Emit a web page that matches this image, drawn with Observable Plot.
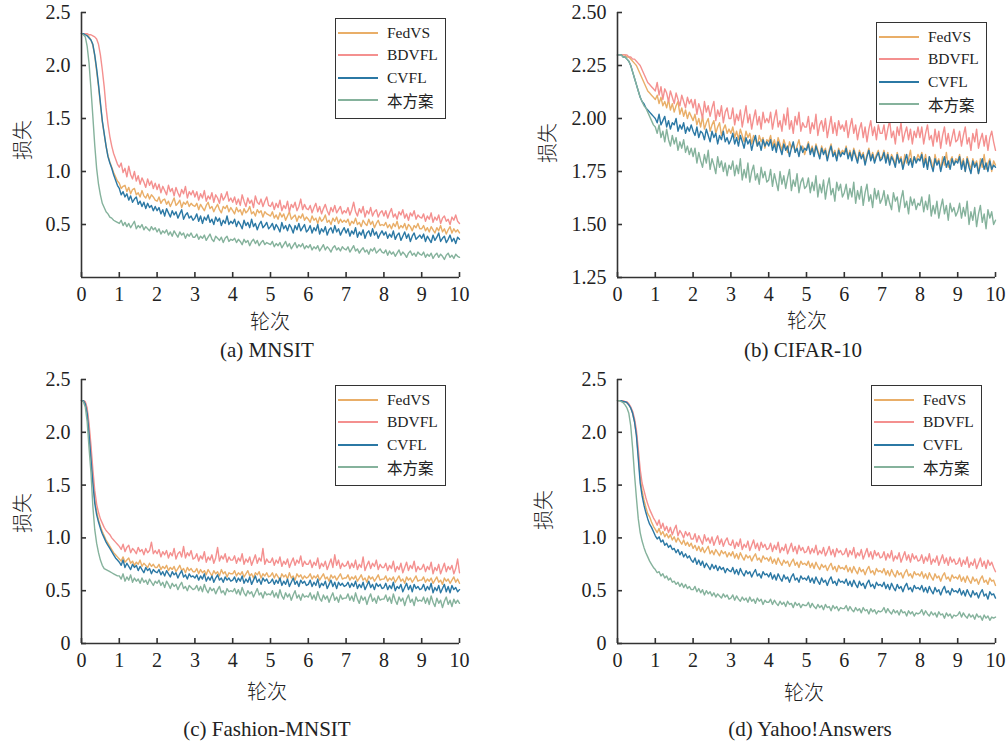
<!DOCTYPE html>
<html>
<head>
<meta charset="utf-8">
<script src="https://cdn.jsdelivr.net/npm/d3@7"></script>
<script src="https://cdn.jsdelivr.net/npm/@observablehq/plot@0.6"></script>
<style>
  body { margin: 0; background: #fff; }
  #root { position: relative; width: 1008px; height: 742px; overflow: hidden; font-family: "Liberation Serif", "Noto Sans CJK SC", serif; color: #222; }
  .panel { position: absolute; }
  .ylab { position: absolute; font-family: "Noto Sans CJK SC"; font-weight: 300; font-size: 20px; line-height: 20px; transform: translate(-50%, -50%) rotate(-90deg); white-space: nowrap; }
  .xlab { position: absolute; font-family: "Noto Sans CJK SC"; font-weight: 300; font-size: 20px; line-height: 20px; transform: translate(-50%, -50%); white-space: nowrap; }
  .cap { position: absolute; font-size: 21px; line-height: 21px; transform: translate(-50%, -50%); white-space: nowrap; }
  .legend { position: absolute; width: 111px; height: 101px; border: 1.6px solid #333; box-sizing: border-box; background: #fff; }
  .row { position: absolute; left: 0; height: 20px; display: flex; align-items: center; font-size: 15.5px; }
  .row .sw { width: 40px; height: 2px; margin-left: 2px; margin-right: 9px; }
  .row .tx { font-family: "Liberation Serif", "Noto Sans CJK SC"; white-space: nowrap; }
</style>
</head>
<body>
<div id="root"></div>
<script>
// ---------- data ----------
const methods = ["FedVS", "BDVFL", "CVFL", "本方案"];
const colors = ["#E9AE68", "#F4908F", "#2B78A4", "#85B29C"];
const xTicks = [0, 1, 2, 3, 4, 5, 6, 7, 8, 9, 10];
const yTicksA = [0.5, 1.0, 1.5, 2.0, 2.5];
const yTicksB = [1.25, 1.5, 1.75, 2.0, 2.25, 2.5];
const yTicksCD = [0, 0.5, 1.0, 1.5, 2.0, 2.5];
const panelTitles = ["(a) MNSIT", "(b) CIFAR-10", "(c) Fashion-MNSIT", "(d) Yahoo!Answers"];
const xTitle = "轮次";
const yTitle = "损失";

// epochs 0..10 in steps of 0.05 (201 samples per series)
const epochs = d3.range(201).map(i => i / 20);

// (a) MNSIT
const mnistFedVS = [2.30,2.30,2.30,2.29,2.27,2.24,2.19,2.09,1.95,1.80,1.63,1.47,1.35,1.24,1.15,1.09,1.04,0.99,0.95,0.91,
 0.89,0.84,0.86,0.87,0.81,0.85,0.79,0.83,0.84,0.78,0.80,0.76,0.82,0.77,0.75,0.79,0.74,0.78,0.76,0.73,
 0.72,0.76,0.70,0.73,0.74,0.69,0.72,0.67,0.71,0.75,0.68,0.70,0.73,0.66,0.71,0.69,0.72,0.67,0.70,0.68,
 0.67,0.70,0.64,0.69,0.66,0.63,0.68,0.71,0.65,0.67,0.62,0.66,0.69,0.64,0.61,0.67,0.65,0.68,0.62,0.66,
 0.63,0.60,0.66,0.62,0.64,0.59,0.65,0.61,0.63,0.67,0.60,0.62,0.58,0.64,0.61,0.63,0.57,0.62,0.60,0.59,
 0.58,0.62,0.56,0.59,0.55,0.61,0.57,0.60,0.54,0.58,0.62,0.55,0.57,0.59,0.53,0.58,0.56,0.60,0.54,0.57,
 0.55,0.52,0.58,0.54,0.56,0.51,0.57,0.53,0.55,0.59,0.52,0.54,0.50,0.56,0.53,0.57,0.51,0.55,0.52,0.54,
 0.52,0.55,0.49,0.53,0.51,0.56,0.50,0.52,0.48,0.54,0.51,0.49,0.55,0.50,0.53,0.47,0.51,0.54,0.49,0.50,
 0.49,0.52,0.47,0.50,0.46,0.51,0.48,0.53,0.46,0.49,0.47,0.51,0.45,0.50,0.48,0.44,0.49,0.47,0.51,0.46,
 0.46,0.49,0.44,0.47,0.43,0.48,0.45,0.42,0.47,0.44,0.49,0.43,0.46,0.41,0.45,0.48,0.42,0.46,0.43,0.45,
 0.42];
const mnistBDVFL = [2.30,2.30,2.30,2.30,2.29,2.29,2.28,2.27,2.25,2.20,2.10,1.96,1.80,1.60,1.45,1.33,1.24,1.17,1.12,1.07,
 1.04,1.08,0.99,1.03,0.95,1.05,0.97,0.93,1.00,0.91,0.96,0.88,0.94,0.90,0.85,0.93,0.87,0.91,0.84,0.89,
 0.83,0.88,0.80,0.86,0.82,0.78,0.87,0.81,0.84,0.77,0.85,0.80,0.76,0.83,0.79,0.86,0.75,0.81,0.78,0.82,
 0.76,0.81,0.73,0.79,0.75,0.82,0.72,0.77,0.74,0.80,0.71,0.78,0.75,0.70,0.79,0.73,0.76,0.81,0.72,0.75,
 0.71,0.76,0.69,0.74,0.68,0.78,0.72,0.67,0.75,0.70,0.73,0.66,0.77,0.71,0.69,0.74,0.67,0.72,0.76,0.68,
 0.67,0.71,0.64,0.70,0.66,0.73,0.63,0.68,0.65,0.72,0.62,0.69,0.66,0.71,0.63,0.67,0.74,0.64,0.69,0.65,
 0.64,0.68,0.61,0.66,0.70,0.62,0.67,0.60,0.65,0.69,0.63,0.59,0.66,0.62,0.68,0.61,0.64,0.67,0.60,0.63,
 0.61,0.66,0.59,0.64,0.71,0.62,0.58,0.65,0.61,0.67,0.57,0.63,0.60,0.66,0.58,0.62,0.64,0.57,0.61,0.63,
 0.58,0.63,0.56,0.61,0.65,0.57,0.60,0.55,0.62,0.59,0.64,0.56,0.60,0.54,0.61,0.58,0.63,0.55,0.59,0.57,
 0.56,0.60,0.53,0.58,0.55,0.61,0.52,0.57,0.54,0.59,0.51,0.56,0.58,0.53,0.55,0.50,0.57,0.54,0.59,0.53,
 0.51];
const mnistCVFL = [2.30,2.30,2.29,2.28,2.26,2.24,2.20,2.10,1.97,1.82,1.65,1.48,1.36,1.24,1.14,1.08,1.03,0.97,0.92,0.87,
 0.84,0.78,0.81,0.76,0.79,0.73,0.77,0.71,0.74,0.76,0.69,0.72,0.67,0.71,0.65,0.70,0.66,0.68,0.63,0.67,
 0.63,0.66,0.60,0.64,0.58,0.65,0.61,0.57,0.63,0.59,0.62,0.56,0.60,0.64,0.55,0.59,0.61,0.56,0.58,0.54,
 0.56,0.60,0.53,0.58,0.51,0.57,0.54,0.59,0.52,0.55,0.50,0.57,0.53,0.56,0.49,0.54,0.51,0.58,0.50,0.53,
 0.51,0.55,0.48,0.53,0.50,0.46,0.54,0.49,0.52,0.47,0.55,0.48,0.51,0.45,0.50,0.53,0.47,0.49,0.52,0.46,
 0.48,0.51,0.45,0.50,0.47,0.43,0.52,0.46,0.49,0.44,0.50,0.47,0.42,0.49,0.45,0.51,0.44,0.47,0.50,0.43,
 0.45,0.49,0.42,0.47,0.44,0.50,0.41,0.46,0.43,0.48,0.40,0.45,0.47,0.42,0.49,0.43,0.46,0.40,0.44,0.47,
 0.42,0.46,0.39,0.44,0.41,0.47,0.38,0.43,0.40,0.45,0.37,0.42,0.44,0.39,0.46,0.40,0.43,0.37,0.41,0.44,
 0.40,0.43,0.37,0.41,0.38,0.44,0.36,0.40,0.42,0.35,0.39,0.43,0.37,0.41,0.34,0.39,0.42,0.36,0.38,0.40,
 0.37,0.41,0.34,0.39,0.36,0.33,0.40,0.35,0.38,0.42,0.34,0.37,0.39,0.33,0.36,0.40,0.34,0.37,0.32,0.38,
 0.36];
const mnistOurs = [2.30,2.29,2.27,2.18,2.02,1.78,1.52,1.25,1.03,0.88,0.78,0.70,0.66,0.62,0.60,0.57,0.56,0.54,0.53,0.52,
 0.51,0.54,0.49,0.52,0.48,0.51,0.47,0.50,0.53,0.46,0.49,0.47,0.50,0.45,0.48,0.46,0.44,0.48,0.45,0.47,
 0.43,0.46,0.41,0.44,0.42,0.45,0.40,0.43,0.39,0.44,0.41,0.38,0.43,0.40,0.42,0.37,0.41,0.39,0.42,0.38,
 0.38,0.41,0.36,0.39,0.37,0.40,0.35,0.38,0.41,0.36,0.34,0.39,0.37,0.35,0.38,0.33,0.37,0.39,0.34,0.36,
 0.35,0.37,0.33,0.36,0.34,0.31,0.36,0.33,0.35,0.30,0.34,0.36,0.32,0.35,0.30,0.33,0.35,0.31,0.33,0.32,
 0.31,0.34,0.29,0.32,0.30,0.33,0.28,0.31,0.34,0.29,0.32,0.27,0.30,0.33,0.28,0.31,0.29,0.32,0.27,0.30,
 0.28,0.31,0.26,0.29,0.27,0.30,0.25,0.28,0.31,0.26,0.29,0.27,0.24,0.28,0.30,0.26,0.28,0.25,0.29,0.27,
 0.26,0.29,0.24,0.27,0.30,0.25,0.27,0.23,0.26,0.28,0.24,0.26,0.22,0.27,0.25,0.28,0.23,0.25,0.27,0.24,
 0.23,0.26,0.21,0.25,0.22,0.24,0.20,0.23,0.26,0.21,0.24,0.22,0.19,0.23,0.25,0.21,0.23,0.20,0.24,0.22,
 0.21,0.24,0.19,0.22,0.20,0.23,0.18,0.21,0.23,0.19,0.22,0.20,0.17,0.21,0.23,0.19,0.21,0.18,0.22,0.20,
 0.19];

// (b) CIFAR-10
const cifarFedVS = [2.30,2.30,2.30,2.30,2.30,2.29,2.29,2.28,2.27,2.26,2.25,2.23,2.21,2.19,2.17,2.15,2.13,2.12,2.11,2.10,
 2.09,2.11,2.07,2.10,2.06,2.08,2.05,2.09,2.04,2.07,2.03,2.06,2.08,2.02,2.05,2.01,2.04,2.00,2.03,2.01,
 1.99,2.02,1.97,2.00,1.96,2.01,1.95,1.98,2.00,1.94,1.97,1.99,1.93,1.96,1.98,1.92,1.95,1.97,1.93,1.95,
 1.93,1.96,1.91,1.94,1.90,1.95,1.92,1.89,1.94,1.91,1.93,1.88,1.92,1.90,1.87,1.92,1.89,1.91,1.86,1.90,
 1.89,1.92,1.87,1.90,1.86,1.91,1.88,1.85,1.90,1.87,1.84,1.89,1.86,1.88,1.84,1.87,1.90,1.85,1.87,1.83,
 1.86,1.89,1.84,1.87,1.83,1.88,1.85,1.82,1.87,1.84,1.86,1.81,1.85,1.88,1.83,1.85,1.81,1.86,1.83,1.85,
 1.84,1.87,1.82,1.85,1.81,1.86,1.83,1.80,1.85,1.82,1.84,1.79,1.83,1.86,1.81,1.84,1.80,1.83,1.85,1.81,
 1.82,1.85,1.80,1.84,1.79,1.83,1.81,1.78,1.84,1.80,1.82,1.77,1.83,1.79,1.81,1.85,1.78,1.82,1.80,1.83,
 1.81,1.84,1.79,1.83,1.77,1.82,1.80,1.76,1.83,1.79,1.81,1.76,1.82,1.78,1.84,1.77,1.80,1.82,1.78,1.81,
 1.80,1.83,1.78,1.81,1.75,1.82,1.79,1.76,1.81,1.78,1.80,1.74,1.81,1.77,1.83,1.76,1.79,1.81,1.75,1.80,
 1.78];
const cifarBDVFL = [2.30,2.30,2.30,2.30,2.30,2.30,2.29,2.29,2.28,2.28,2.27,2.26,2.25,2.23,2.21,2.19,2.17,2.16,2.15,2.14,
 2.13,2.17,2.11,2.15,2.09,2.14,2.12,2.08,2.13,2.10,2.07,2.12,2.09,2.06,2.11,2.08,2.05,2.10,2.07,2.09,
 2.05,2.09,2.02,2.07,2.04,2.00,2.08,2.03,2.06,2.01,2.05,2.08,1.99,2.04,2.01,2.06,1.98,2.03,2.05,2.00,
 2.00,2.05,1.97,2.02,1.99,2.04,1.96,2.01,2.06,1.98,2.02,1.95,2.00,2.04,1.97,2.01,1.95,2.03,1.98,2.00,
 1.98,2.03,1.95,2.00,2.04,1.96,1.99,1.94,2.02,1.97,2.05,1.95,1.99,1.93,2.01,1.97,2.03,1.94,1.98,1.96,
 1.96,2.01,1.93,1.98,1.95,2.02,1.92,1.97,1.99,1.94,2.00,1.91,1.96,2.01,1.93,1.98,1.92,1.99,1.95,1.97,
 1.94,1.99,1.91,1.96,2.00,1.93,1.97,1.90,1.95,1.98,1.91,1.96,1.89,1.95,1.99,1.92,1.96,1.90,1.97,1.93,
 1.93,1.97,1.90,1.95,1.99,1.91,1.94,1.88,1.96,1.92,1.98,1.89,1.93,1.96,1.90,1.95,1.88,1.94,1.91,1.96,
 1.91,1.96,1.88,1.93,1.97,1.90,1.92,1.87,1.95,1.89,1.94,1.86,1.92,1.96,1.88,1.93,1.87,1.91,1.95,1.89,
 1.90,1.94,1.87,1.92,1.96,1.88,1.91,1.85,1.93,1.89,1.95,1.86,1.90,1.93,1.87,1.92,1.85,1.91,1.94,1.89,
 1.85];
const cifarCVFL = [2.30,2.30,2.30,2.29,2.29,2.28,2.27,2.25,2.22,2.19,2.16,2.13,2.10,2.08,2.07,2.05,2.04,2.03,2.02,2.01,
 2.00,1.98,2.02,1.97,1.99,2.01,1.96,1.99,1.95,1.98,1.97,2.00,1.94,1.97,1.95,1.98,1.93,1.96,1.94,1.97,
 1.94,1.92,1.96,1.91,1.94,1.93,1.90,1.95,1.92,1.89,1.94,1.91,1.93,1.88,1.92,1.90,1.94,1.89,1.91,1.88,
 1.90,1.93,1.88,1.91,1.87,1.92,1.89,1.86,1.91,1.88,1.90,1.85,1.89,1.92,1.87,1.89,1.85,1.90,1.87,1.89,
 1.87,1.90,1.85,1.88,1.84,1.89,1.86,1.83,1.88,1.85,1.87,1.82,1.86,1.89,1.84,1.86,1.82,1.87,1.84,1.86,
 1.85,1.88,1.83,1.86,1.82,1.87,1.84,1.81,1.86,1.83,1.85,1.80,1.84,1.87,1.82,1.84,1.80,1.85,1.82,1.84,
 1.83,1.86,1.81,1.84,1.80,1.85,1.82,1.79,1.84,1.81,1.83,1.78,1.82,1.85,1.80,1.83,1.79,1.82,1.84,1.80,
 1.81,1.84,1.79,1.83,1.78,1.82,1.80,1.77,1.83,1.79,1.81,1.76,1.80,1.83,1.78,1.81,1.77,1.82,1.79,1.81,
 1.80,1.83,1.77,1.81,1.76,1.82,1.78,1.75,1.81,1.78,1.80,1.75,1.79,1.82,1.77,1.80,1.76,1.81,1.78,1.80,
 1.79,1.82,1.76,1.80,1.75,1.81,1.77,1.74,1.80,1.77,1.79,1.74,1.78,1.81,1.76,1.79,1.75,1.80,1.76,1.78,
 1.77];
const cifarOurs = [2.30,2.30,2.30,2.29,2.29,2.28,2.27,2.25,2.22,2.19,2.16,2.13,2.10,2.08,2.06,2.05,2.03,2.01,1.99,1.97,
 1.96,1.93,1.97,1.91,1.94,1.89,1.95,1.90,1.87,1.92,1.88,1.91,1.85,1.89,1.86,1.90,1.84,1.87,1.83,1.86,
 1.82,1.86,1.79,1.84,1.80,1.77,1.83,1.79,1.85,1.76,1.81,1.78,1.74,1.82,1.77,1.80,1.75,1.79,1.73,1.78,
 1.76,1.80,1.73,1.78,1.74,1.81,1.71,1.76,1.72,1.79,1.70,1.75,1.78,1.71,1.74,1.69,1.77,1.72,1.75,1.70,
 1.71,1.76,1.68,1.74,1.70,1.66,1.75,1.69,1.73,1.67,1.72,1.76,1.66,1.71,1.68,1.74,1.65,1.70,1.72,1.67,
 1.68,1.72,1.65,1.70,1.66,1.73,1.63,1.69,1.65,1.71,1.62,1.68,1.72,1.64,1.67,1.61,1.70,1.66,1.69,1.63,
 1.65,1.69,1.62,1.67,1.63,1.70,1.60,1.66,1.62,1.68,1.59,1.65,1.69,1.61,1.64,1.58,1.67,1.62,1.66,1.60,
 1.62,1.66,1.59,1.64,1.60,1.57,1.65,1.61,1.63,1.56,1.62,1.66,1.58,1.61,1.55,1.63,1.59,1.62,1.57,1.60,
 1.59,1.63,1.56,1.61,1.57,1.64,1.54,1.59,1.55,1.61,1.53,1.58,1.62,1.55,1.59,1.52,1.60,1.56,1.58,1.54,
 1.56,1.60,1.53,1.58,1.54,1.61,1.50,1.56,1.52,1.58,1.49,1.55,1.59,1.51,1.55,1.48,1.57,1.53,1.56,1.50,
 1.52];

// (c) Fashion-MNSIT
const fashionFedVS = [2.30,2.30,2.28,2.20,2.02,1.80,1.56,1.37,1.25,1.17,1.11,1.06,1.02,0.98,0.95,0.92,0.89,0.86,0.84,0.82,
 0.80,0.78,0.82,0.77,0.79,0.81,0.76,0.78,0.74,0.77,0.75,0.79,0.73,0.76,0.74,0.72,0.76,0.73,0.75,0.72,
 0.72,0.75,0.70,0.73,0.71,0.74,0.69,0.72,0.70,0.73,0.68,0.71,0.74,0.69,0.71,0.67,0.72,0.69,0.71,0.68,
 0.68,0.71,0.66,0.70,0.67,0.69,0.65,0.70,0.67,0.64,0.69,0.66,0.68,0.64,0.70,0.66,0.68,0.63,0.67,0.66,
 0.66,0.69,0.64,0.67,0.65,0.68,0.63,0.66,0.69,0.64,0.66,0.62,0.67,0.65,0.68,0.62,0.66,0.64,0.67,0.63,
 0.64,0.67,0.62,0.66,0.63,0.60,0.66,0.63,0.65,0.61,0.67,0.62,0.64,0.60,0.66,0.63,0.65,0.61,0.64,0.62,
 0.63,0.66,0.61,0.64,0.62,0.65,0.60,0.63,0.66,0.61,0.63,0.59,0.65,0.62,0.64,0.60,0.63,0.66,0.61,0.62,
 0.62,0.65,0.60,0.63,0.61,0.64,0.59,0.62,0.65,0.60,0.62,0.58,0.64,0.61,0.63,0.59,0.62,0.65,0.60,0.61,
 0.61,0.64,0.59,0.62,0.60,0.63,0.58,0.61,0.64,0.59,0.61,0.57,0.63,0.60,0.62,0.58,0.61,0.64,0.59,0.60,
 0.60,0.63,0.58,0.61,0.59,0.62,0.57,0.60,0.63,0.58,0.60,0.56,0.62,0.59,0.61,0.57,0.60,0.63,0.58,0.61,
 0.57];
const fashionBDVFL = [2.30,2.30,2.29,2.23,2.08,1.88,1.65,1.45,1.32,1.24,1.18,1.14,1.10,1.07,1.05,1.03,1.00,0.98,0.96,0.94,
 0.92,0.89,0.94,0.87,0.91,0.93,0.86,0.90,0.88,0.85,0.91,0.87,0.89,0.84,0.90,0.86,0.88,0.96,0.85,0.88,
 0.85,0.89,0.82,0.87,0.84,0.88,0.81,0.86,0.83,0.90,0.80,0.85,0.87,0.82,0.92,0.81,0.86,0.83,0.88,0.80,
 0.81,0.85,0.78,0.83,0.80,0.87,0.77,0.82,0.79,0.84,0.76,0.81,0.91,0.78,0.83,0.80,0.85,0.77,0.82,0.79,
 0.79,0.83,0.76,0.81,0.78,0.85,0.75,0.80,0.77,0.82,0.74,0.79,0.84,0.76,0.81,0.78,0.90,0.75,0.80,0.77,
 0.77,0.81,0.74,0.79,0.76,0.82,0.73,0.78,0.75,0.80,0.72,0.77,0.81,0.74,0.79,0.76,0.83,0.73,0.78,0.75,
 0.75,0.79,0.72,0.77,0.74,0.81,0.71,0.76,0.73,0.78,0.70,0.75,0.80,0.72,0.84,0.74,0.79,0.71,0.76,0.73,
 0.74,0.78,0.71,0.76,0.72,0.79,0.70,0.75,0.72,0.82,0.69,0.74,0.78,0.71,0.76,0.73,0.79,0.70,0.75,0.72,
 0.72,0.76,0.69,0.74,0.71,0.78,0.68,0.73,0.70,0.76,0.67,0.72,0.77,0.69,0.74,0.71,0.78,0.68,0.73,0.70,
 0.71,0.75,0.68,0.73,0.70,0.77,0.66,0.72,0.69,0.75,0.66,0.71,0.76,0.68,0.73,0.70,0.74,0.66,0.71,0.80,
 0.67];
const fashionCVFL = [2.30,2.30,2.27,2.18,1.98,1.75,1.52,1.33,1.22,1.15,1.09,1.04,1.00,0.96,0.93,0.90,0.87,0.84,0.81,0.79,
 0.77,0.74,0.79,0.72,0.76,0.73,0.70,0.75,0.72,0.74,0.69,0.73,0.70,0.67,0.72,0.69,0.71,0.66,0.70,0.68,
 0.67,0.70,0.65,0.68,0.64,0.69,0.66,0.63,0.68,0.65,0.67,0.62,0.66,0.69,0.63,0.65,0.61,0.66,0.63,0.64,
 0.62,0.65,0.60,0.64,0.61,0.66,0.59,0.63,0.60,0.64,0.58,0.62,0.65,0.60,0.62,0.58,0.63,0.60,0.62,0.59,
 0.60,0.63,0.58,0.62,0.59,0.64,0.57,0.61,0.58,0.63,0.56,0.60,0.64,0.58,0.61,0.56,0.62,0.59,0.61,0.57,
 0.58,0.61,0.56,0.60,0.57,0.62,0.55,0.59,0.56,0.61,0.54,0.58,0.62,0.56,0.59,0.54,0.60,0.57,0.59,0.55,
 0.56,0.60,0.54,0.58,0.55,0.61,0.53,0.57,0.55,0.59,0.52,0.56,0.60,0.54,0.58,0.52,0.58,0.55,0.57,0.54,
 0.55,0.58,0.53,0.57,0.54,0.59,0.52,0.56,0.53,0.58,0.51,0.55,0.59,0.53,0.56,0.51,0.57,0.54,0.56,0.52,
 0.53,0.57,0.51,0.55,0.52,0.58,0.50,0.54,0.52,0.56,0.49,0.53,0.57,0.51,0.55,0.49,0.56,0.52,0.54,0.51,
 0.52,0.56,0.50,0.54,0.51,0.57,0.48,0.53,0.50,0.55,0.48,0.52,0.56,0.49,0.54,0.48,0.55,0.51,0.53,0.49,
 0.51];
const fashionOurs = [2.30,2.29,2.24,2.10,1.85,1.62,1.30,1.08,0.95,0.86,0.79,0.74,0.71,0.70,0.69,0.68,0.67,0.66,0.65,0.64,
 0.64,0.61,0.66,0.59,0.63,0.60,0.65,0.58,0.62,0.59,0.61,0.57,0.62,0.58,0.60,0.56,0.61,0.58,0.55,0.59,
 0.57,0.60,0.55,0.58,0.53,0.59,0.56,0.52,0.57,0.54,0.56,0.51,0.55,0.58,0.52,0.54,0.50,0.55,0.53,0.51,
 0.52,0.55,0.50,0.54,0.49,0.56,0.51,0.48,0.53,0.50,0.52,0.47,0.51,0.54,0.48,0.50,0.46,0.52,0.49,0.50,
 0.49,0.52,0.47,0.51,0.46,0.53,0.48,0.45,0.50,0.47,0.49,0.44,0.48,0.52,0.46,0.48,0.43,0.49,0.46,0.47,
 0.46,0.50,0.44,0.48,0.43,0.51,0.45,0.42,0.48,0.44,0.47,0.41,0.46,0.50,0.43,0.46,0.41,0.47,0.44,0.45,
 0.44,0.48,0.42,0.46,0.41,0.49,0.43,0.40,0.46,0.42,0.45,0.39,0.44,0.48,0.41,0.44,0.39,0.46,0.42,0.43,
 0.43,0.47,0.41,0.45,0.40,0.48,0.42,0.38,0.45,0.41,0.44,0.37,0.43,0.47,0.40,0.43,0.38,0.45,0.41,0.42,
 0.42,0.46,0.40,0.44,0.38,0.47,0.41,0.37,0.44,0.40,0.43,0.36,0.42,0.46,0.39,0.42,0.36,0.44,0.40,0.41,
 0.40,0.44,0.38,0.43,0.37,0.45,0.39,0.35,0.43,0.38,0.41,0.34,0.40,0.44,0.37,0.41,0.35,0.42,0.38,0.41,
 0.38];

// (d) Yahoo!Answers
const yahooFedVS = [2.30,2.30,2.30,2.29,2.29,2.28,2.26,2.23,2.18,2.10,1.98,1.78,1.57,1.45,1.36,1.29,1.23,1.20,1.15,1.11,
 1.08,1.05,1.09,1.03,1.06,1.01,1.04,1.00,1.03,0.98,1.01,0.96,1.00,0.97,0.94,0.98,0.93,0.96,0.92,0.95,
 0.90,0.93,0.88,0.92,0.87,0.91,0.86,0.89,0.92,0.85,0.88,0.84,0.89,0.86,0.83,0.88,0.85,0.87,0.82,0.86,
 0.83,0.87,0.81,0.85,0.80,0.86,0.82,0.79,0.84,0.81,0.83,0.78,0.82,0.85,0.79,0.81,0.77,0.83,0.80,0.81,
 0.78,0.82,0.76,0.80,0.75,0.81,0.77,0.74,0.79,0.76,0.78,0.73,0.77,0.80,0.74,0.77,0.72,0.78,0.75,0.76,
 0.74,0.78,0.72,0.76,0.71,0.77,0.73,0.70,0.75,0.72,0.74,0.69,0.73,0.76,0.70,0.73,0.68,0.74,0.71,0.72,
 0.70,0.74,0.68,0.72,0.67,0.73,0.69,0.66,0.72,0.68,0.70,0.65,0.70,0.73,0.67,0.69,0.65,0.71,0.68,0.69,
 0.67,0.71,0.65,0.69,0.64,0.70,0.66,0.63,0.69,0.65,0.67,0.62,0.67,0.70,0.64,0.66,0.62,0.68,0.65,0.66,
 0.64,0.68,0.62,0.66,0.61,0.67,0.63,0.60,0.66,0.62,0.64,0.59,0.64,0.67,0.61,0.63,0.59,0.65,0.62,0.63,
 0.61,0.65,0.59,0.63,0.58,0.64,0.60,0.57,0.63,0.59,0.61,0.56,0.61,0.64,0.58,0.60,0.56,0.62,0.59,0.60,
 0.55];
const yahooBDVFL = [2.30,2.30,2.30,2.30,2.29,2.29,2.27,2.24,2.20,2.13,2.02,1.84,1.65,1.52,1.45,1.38,1.32,1.27,1.23,1.19,
 1.16,1.12,1.17,1.09,1.14,1.07,1.11,1.05,1.10,1.03,1.08,1.12,1.02,1.07,1.04,1.00,1.06,1.02,1.05,0.99,
 0.99,1.04,0.96,1.02,0.98,0.94,1.03,0.97,1.00,0.95,1.01,0.93,0.98,1.02,0.94,0.99,0.92,0.97,1.00,0.94,
 0.93,0.98,0.90,0.96,0.92,0.99,0.89,0.94,0.91,0.97,0.88,0.93,0.98,0.90,0.95,0.88,0.96,0.91,0.94,0.89,
 0.90,0.95,0.87,0.93,0.89,0.96,0.86,0.91,0.88,0.94,0.85,0.90,0.95,0.87,0.92,0.85,0.93,0.88,0.91,0.86,
 0.87,0.92,0.85,0.90,0.86,0.93,0.84,0.88,0.85,0.91,0.83,0.87,0.92,0.84,0.89,0.82,0.90,0.86,0.88,0.84,
 0.85,0.90,0.82,0.88,0.84,0.91,0.81,0.86,0.83,0.89,0.80,0.85,0.90,0.82,0.87,0.80,0.88,0.83,0.86,0.81,
 0.82,0.87,0.79,0.85,0.81,0.88,0.78,0.83,0.80,0.86,0.77,0.82,0.87,0.79,0.84,0.77,0.85,0.80,0.83,0.78,
 0.79,0.84,0.76,0.82,0.78,0.85,0.75,0.80,0.77,0.83,0.74,0.79,0.84,0.76,0.81,0.74,0.82,0.77,0.80,0.75,
 0.76,0.81,0.73,0.79,0.75,0.82,0.72,0.77,0.74,0.80,0.71,0.76,0.81,0.73,0.78,0.71,0.79,0.74,0.77,0.72,
 0.68];
const yahooCVFL = [2.30,2.30,2.30,2.29,2.29,2.28,2.26,2.23,2.18,2.10,1.97,1.75,1.52,1.40,1.31,1.24,1.18,1.13,1.10,1.06,
 1.02,0.99,1.01,0.96,0.98,0.93,0.95,0.91,0.93,0.89,0.90,0.86,0.89,0.84,0.87,0.82,0.85,0.81,0.83,0.79,
 0.77,0.81,0.75,0.79,0.74,0.78,0.72,0.76,0.73,0.70,0.75,0.71,0.74,0.69,0.73,0.70,0.72,0.67,0.71,0.69,
 0.68,0.72,0.66,0.70,0.65,0.71,0.67,0.64,0.69,0.66,0.68,0.63,0.67,0.70,0.64,0.66,0.62,0.68,0.65,0.66,
 0.63,0.67,0.61,0.65,0.60,0.66,0.62,0.59,0.65,0.61,0.63,0.58,0.63,0.66,0.60,0.62,0.58,0.64,0.61,0.62,
 0.60,0.64,0.58,0.62,0.57,0.63,0.59,0.56,0.62,0.58,0.60,0.55,0.60,0.63,0.57,0.59,0.55,0.61,0.58,0.59,
 0.57,0.61,0.55,0.59,0.54,0.60,0.56,0.53,0.59,0.55,0.57,0.52,0.57,0.60,0.54,0.56,0.52,0.58,0.55,0.56,
 0.54,0.58,0.52,0.56,0.51,0.57,0.53,0.50,0.56,0.52,0.54,0.49,0.54,0.57,0.51,0.53,0.49,0.55,0.52,0.53,
 0.51,0.55,0.49,0.53,0.48,0.54,0.50,0.47,0.53,0.49,0.51,0.46,0.51,0.54,0.48,0.50,0.46,0.52,0.49,0.50,
 0.48,0.52,0.46,0.50,0.45,0.51,0.47,0.44,0.50,0.46,0.48,0.43,0.48,0.51,0.45,0.47,0.42,0.49,0.46,0.47,
 0.43];
const yahooOurs = [2.30,2.30,2.29,2.28,2.26,2.23,2.18,2.06,1.85,1.60,1.38,1.18,1.05,0.97,0.91,0.86,0.82,0.78,0.75,0.72,
 0.70,0.67,0.68,0.64,0.66,0.62,0.64,0.60,0.62,0.58,0.59,0.56,0.58,0.54,0.57,0.53,0.56,0.52,0.54,0.51,
 0.51,0.54,0.49,0.52,0.48,0.51,0.46,0.50,0.47,0.49,0.45,0.48,0.44,0.47,0.45,0.43,0.47,0.44,0.46,0.42,
 0.43,0.46,0.41,0.45,0.42,0.40,0.44,0.41,0.43,0.39,0.44,0.40,0.42,0.38,0.43,0.40,0.42,0.37,0.41,0.39,
 0.39,0.42,0.37,0.41,0.38,0.36,0.40,0.37,0.39,0.35,0.40,0.37,0.38,0.34,0.39,0.36,0.38,0.34,0.37,0.36,
 0.36,0.39,0.34,0.38,0.35,0.33,0.37,0.34,0.36,0.32,0.37,0.34,0.35,0.31,0.36,0.33,0.35,0.31,0.34,0.33,
 0.33,0.36,0.31,0.35,0.32,0.30,0.34,0.31,0.33,0.29,0.34,0.31,0.32,0.28,0.33,0.30,0.32,0.28,0.31,0.30,
 0.31,0.34,0.29,0.33,0.30,0.28,0.32,0.29,0.31,0.27,0.32,0.29,0.30,0.26,0.31,0.28,0.30,0.26,0.29,0.28,
 0.29,0.32,0.27,0.31,0.28,0.26,0.30,0.27,0.29,0.25,0.30,0.27,0.28,0.24,0.29,0.26,0.28,0.24,0.27,0.26,
 0.27,0.30,0.25,0.29,0.26,0.24,0.28,0.25,0.27,0.23,0.28,0.25,0.26,0.22,0.27,0.24,0.26,0.22,0.25,0.24,
 0.25];

// ---------- build ----------
const fmt1 = d => d === 0 ? "0" : d.toFixed(1);
const fmt2 = d => d.toFixed(2);

const panels = [
  {series: [mnistFedVS, mnistBDVFL, mnistCVFL, mnistOurs], domain: [0, 2.5], ticks: yTicksA, fmt: fmt1,
   left: 0, top: 0, ml: 81, mr: 45, mb: 33,
   ylab: [22, 140], xlab: [270, 321], cap: [267, 350], legend: [335, 18]},
  {series: [cifarFedVS, cifarBDVFL, cifarCVFL, cifarOurs], domain: [1.25, 2.5], ticks: yTicksB, fmt: fmt2,
   left: 504, top: 0, ml: 113, mr: 13, mb: 33,
   ylab: [547, 143], xlab: [807, 320], cap: [803, 350], legend: [876, 22]},
  {series: [fashionFedVS, fashionBDVFL, fashionCVFL, fashionOurs], domain: [0, 2.5], ticks: yTicksCD, fmt: fmt1,
   left: 0, top: 367, ml: 81, mr: 45, mb: 34,
   ylab: [22, 513], xlab: [267, 691], cap: [267, 729], legend: [335, 385]},
  {series: [yahooFedVS, yahooBDVFL, yahooCVFL, yahooOurs], domain: [0, 2.5], ticks: yTicksCD, fmt: fmt1,
   left: 504, top: 367, ml: 113, mr: 13, mb: 34,
   ylab: [543, 510], xlab: [804, 692], cap: [810, 729], legend: [871, 385]}
];

const root = document.getElementById("root");

function addText(cls, text, x, y) {
  const d = document.createElement("div");
  d.className = cls;
  d.textContent = text;
  d.style.left = x + "px";
  d.style.top = y + "px";
  root.appendChild(d);
}

panels.forEach((p, k) => {
  const rows = [];
  p.series.forEach((s, j) => {
    epochs.forEach((x, i) => rows.push({x, y: s[i], m: methods[j]}));
  });
  const chart = Plot.plot({
    width: 504,
    height: 310,
    marginLeft: p.ml,
    marginRight: p.mr,
    marginTop: 12,
    marginBottom: p.mb,
    style: {fontFamily: "Liberation Serif, serif", fontSize: "20px", color: "#222", background: "transparent", overflow: "visible"},
    x: {domain: [0, 10]},
    y: {domain: p.domain},
    color: {domain: methods, range: colors},
    marks: [
      Plot.line(rows, {x: "x", y: "y", z: "m", stroke: "m", strokeWidth: 1.4}),
      Plot.ruleX([0], {stroke: "#333", strokeWidth: 1.6}),
      Plot.ruleY([p.domain[0]], {stroke: "#333", strokeWidth: 1.6}),
      Plot.axisX(xTicks, {tickSize: -5, tickPadding: 14, tickFormat: d => String(d), label: null, stroke: "#333", strokeWidth: 1.6, fill: "#222"}),
      Plot.axisY(p.ticks, {tickSize: -5, tickPadding: 16, tickFormat: p.fmt, label: null, stroke: "#333", strokeWidth: 1.6, fill: "#222"})
    ]
  });
  chart.classList.add("panel");
  chart.style.left = p.left + "px";
  chart.style.top = p.top + "px";
  root.appendChild(chart);

  addText("ylab", yTitle, p.ylab[0], p.ylab[1]);
  addText("xlab", xTitle, p.xlab[0], p.xlab[1]);
  addText("cap", panelTitles[k], p.cap[0], p.cap[1]);

  const lg = document.createElement("div");
  lg.className = "legend";
  lg.style.left = p.legend[0] + "px";
  lg.style.top = p.legend[1] + "px";
  methods.forEach((m, j) => {
    const r = document.createElement("div");
    r.className = "row";
    r.style.top = (4 + j * 22.3) + "px";
    const sw = document.createElement("span");
    sw.className = "sw";
    sw.style.background = colors[j];
    const tx = document.createElement("span");
    tx.className = "tx";
    tx.textContent = m;
    r.appendChild(sw);
    r.appendChild(tx);
    lg.appendChild(r);
  });
  root.appendChild(lg);
});
</script>
</body>
</html>
